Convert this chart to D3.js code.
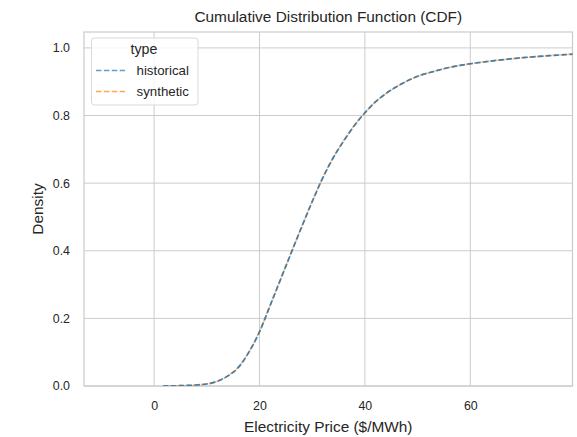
<!DOCTYPE html>
<html><head><meta charset="utf-8">
<script src="https://cdn.jsdelivr.net/npm/d3@7"></script>
<style>body{margin:0;background:#fff;} text{font-family:"Liberation Sans",Arial,sans-serif;}</style>
</head><body><svg id="c" width="577" height="437"></svg>
<script>
const priceX = [1.7, 5, 8, 10, 12, 14, 16, 18, 20, 22, 24, 26, 28, 30, 32, 34, 36, 38, 40, 42, 44, 46, 48, 50, 53, 56, 60, 65, 70, 75, 80];
const historicalCDF = [0, 0.001, 0.003, 0.006, 0.014, 0.03, 0.055, 0.1, 0.16, 0.237, 0.315, 0.393, 0.47, 0.545, 0.615, 0.675, 0.725, 0.77, 0.808, 0.84, 0.865, 0.885, 0.902, 0.916, 0.93, 0.942, 0.953, 0.963, 0.971, 0.977, 0.982];
const syntheticCDF = [0, 0.001, 0.003, 0.006, 0.014, 0.03, 0.056, 0.101, 0.161, 0.238, 0.316, 0.394, 0.471, 0.546, 0.616, 0.676, 0.726, 0.771, 0.808, 0.84, 0.865, 0.885, 0.902, 0.916, 0.93, 0.942, 0.953, 0.963, 0.971, 0.977, 0.982];
const seriesNames = ["historical", "synthetic"];
const seriesColors = ["#1f77b4", "#ff7f0e"];
const xTicks = [0, 20, 40, 60];
const yTicks = [0, 0.2, 0.4, 0.6, 0.8, 1.0];

const svg = d3.select("#c");
const L = 84, R = 572.5, T = 32, B = 386;
const x = d3.scaleLinear().domain([-13.3, 79.4]).range([L, R]);
const y = d3.scaleLinear().domain([0, 1.047]).range([B, T]);
const FONT = "'Liberation Sans',Arial,sans-serif";

// grid
svg.append("g").selectAll("line").data(xTicks).join("line")
  .attr("x1", d => x(d)).attr("x2", d => x(d)).attr("y1", T).attr("y2", B)
  .attr("stroke", "#cccccc").attr("stroke-width", 1);
svg.append("g").selectAll("line").data(yTicks).join("line")
  .attr("x1", L).attr("x2", R).attr("y1", d => y(d)).attr("y2", d => y(d))
  .attr("stroke", "#cccccc").attr("stroke-width", 1);

// axes
const xa = svg.append("g").attr("transform", `translate(0,${B})`)
  .call(d3.axisBottom(x).tickValues(xTicks).tickSize(0).tickPadding(15).tickFormat(d3.format("d")));
const ya = svg.append("g").attr("transform", `translate(${L},0)`)
  .call(d3.axisLeft(y).tickValues(yTicks).tickSize(0).tickPadding(14).tickFormat(d3.format(".1f")));
[xa, ya].forEach(a => {
  a.select(".domain").remove();
  a.selectAll("text").attr("font-size", 12.4).attr("fill", "#262626").attr("font-family", FONT);
});

// frame
svg.append("rect").attr("x", L).attr("y", T).attr("width", R - L).attr("height", B - T)
  .attr("fill", "none").attr("stroke", "#cccccc").attr("stroke-width", 1.25);

// lines
const line = d3.line().x(d => x(d[0])).y(d => y(d[1])).curve(d3.curveMonotoneX);
svg.append("clipPath").attr("id", "clp").append("rect")
  .attr("x", L).attr("y", T).attr("width", R - L).attr("height", B - T);
const order = [1, 0];
const allVals = [historicalCDF, syntheticCDF];
order.forEach(i => {
  svg.append("path").attr("clip-path", "url(#clp)")
    .datum(priceX.map((p, j) => [p, allVals[i][j]]))
    .attr("d", line).attr("fill", "none")
    .attr("stroke", seriesColors[i]).attr("stroke-opacity", i === 0 ? 0.85 : 0.7)
    .attr("stroke-width", 1.7).attr("stroke-dasharray", "5.5,2.4")
    .attr("stroke-dashoffset", i === 0 ? 0 : 1.5);
});

// title & labels
svg.append("text").attr("x", (L + R) / 2).attr("y", 22).attr("text-anchor", "middle")
  .attr("font-size", 15.4).attr("fill", "#262626").text("Cumulative Distribution Function (CDF)");
svg.append("text").attr("x", (L + R) / 2).attr("y", 432).attr("text-anchor", "middle")
  .attr("font-size", 15.4).attr("fill", "#262626").text("Electricity Price ($/MWh)");
svg.append("text").attr("transform", `translate(43,${(T + B) / 2}) rotate(-90)`).attr("text-anchor", "middle")
  .attr("font-size", 15.4).attr("fill", "#262626").text("Density");

// legend
const lg = svg.append("g");
lg.append("rect").attr("x", 91.5).attr("y", 38).attr("width", 106.5).attr("height", 67).attr("rx", 3)
  .attr("fill", "#ffffff").attr("fill-opacity", 0.8).attr("stroke", "#d9d9d9");
lg.append("text").attr("x", 144).attr("y", 54).attr("text-anchor", "middle")
  .attr("font-size", 14.2).attr("fill", "#262626").text("type");
seriesNames.forEach((n, i) => {
  const yy = 70.5 + i * 21;
  lg.append("line").attr("x1", 96).attr("x2", 125).attr("y1", yy).attr("y2", yy)
    .attr("stroke", seriesColors[i]).attr("stroke-opacity", 0.7).attr("stroke-width", 1.7)
    .attr("stroke-dasharray", "5.5,2.4");
  lg.append("text").attr("x", 136.5).attr("y", yy + 4.5).attr("font-size", 13.3)
    .attr("fill", "#262626").text(n);
});
</script></body></html>
